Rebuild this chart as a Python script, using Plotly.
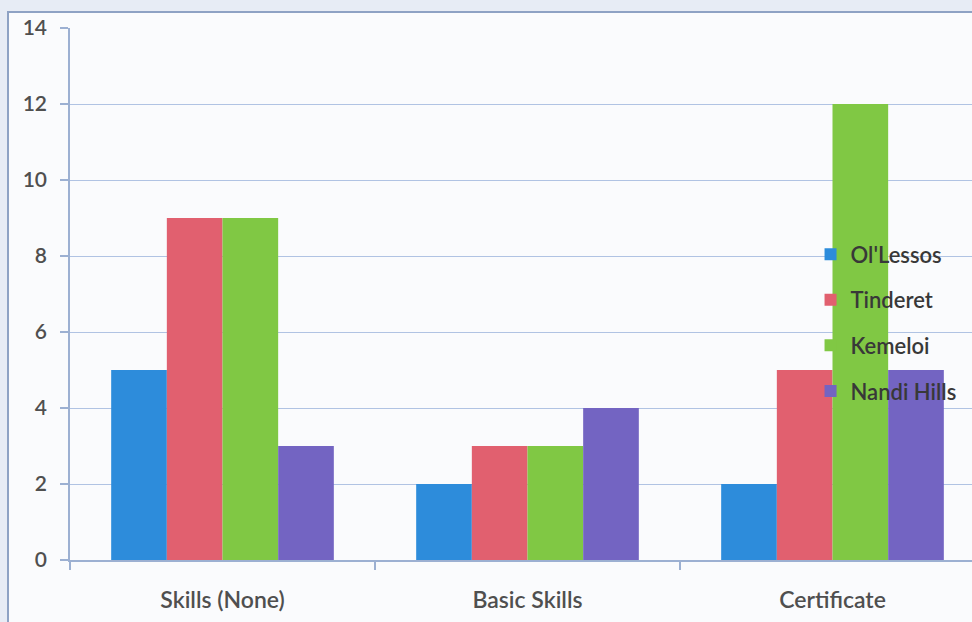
import plotly.graph_objects as go

# Skill level categories and counts per division
categories = ["Skills (None)", "Basic Skills", "Certificate"]
series_names = ["Ol'Lessos", "Tinderet", "Kemeloi", "Nandi Hills"]
ol_lessos = [5, 2, 2]
tinderet = [9, 3, 5]
kemeloi = [9, 3, 12]
nandi_hills = [3, 4, 5]
y_ticks = [0, 2, 4, 6, 8, 10, 12, 14]

series_values = [ol_lessos, tinderet, kemeloi, nandi_hills]
colors = ["#2d8cdb", "#e1606f", "#80c844", "#7364c2"]

FONT = "Lato"
W, H = 972, 622
ML, MR, MT, MB = 70, 0, 28, 62
plot_w = W - ML - MR
plot_h = H - MT - MB

fig = go.Figure()
for i, (name, vals, col) in enumerate(zip(series_names, series_values, colors)):
    fig.add_trace(go.Bar(
        x=categories, y=vals, name=name,
        marker=dict(color=col, line=dict(width=0)),
        legendgroup=f"g{i}",
    ))

grid_col = "#b0c3e3"
axis_col = "#9cb0d2"

# outer frame around the chart area, position in pixels converted to paper units
fx = (8 - ML) / plot_w
fy = (H - MB - 12) / plot_h
fig.add_shape(type="rect", xref="paper", yref="paper",
              x0=fx, x1=1.2, y0=-0.3, y1=fy,
              line=dict(color="#8ea2c4", width=2),
              fillcolor="#fafbfd", layer="below")

fig.update_layout(
    width=W, height=H,
    margin=dict(l=ML, r=MR, t=MT, b=MB),
    paper_bgcolor="#e7ecf5",
    plot_bgcolor="white",
    barmode="group",
    bargap=0.27,
    bargroupgap=0,
    font=dict(family=FONT, size=20, color="#4d4d4d"),
    legend=dict(
        x=0.821, y=0.614, xanchor="left", yanchor="top",
        bgcolor="rgba(0,0,0,0)",
        font=dict(family=FONT, size=22, color="#383838", weight=600),
        tracegroupgap=14,
        itemwidth=30,
    ),
    xaxis=dict(
        range=[-0.5, -0.5 + plot_w / 305.0],
        showgrid=False,
        showline=True, linecolor=axis_col, linewidth=1.5,
        ticks="outside", tickson="boundaries", ticklen=8,
        tickcolor=axis_col, tickwidth=1.5,
        ticklabelstandoff=19,
        tickfont=dict(family=FONT, size=23, color="#4f4f4f", weight=600),
        fixedrange=True,
    ),
    yaxis=dict(
        range=[0, 14],
        tickvals=y_ticks,
        showgrid=True, gridcolor=grid_col, gridwidth=1.2,
        zeroline=False,
        showline=True, linecolor=axis_col, linewidth=1.5,
        ticks="outside", ticklen=8, tickcolor=axis_col, tickwidth=1.5,
        ticklabelstandoff=9,
        tickfont=dict(family=FONT, size=21, color="#4f4f4f", weight=600),
        fixedrange=True,
    ),
)

fig.write_html("out.html")
